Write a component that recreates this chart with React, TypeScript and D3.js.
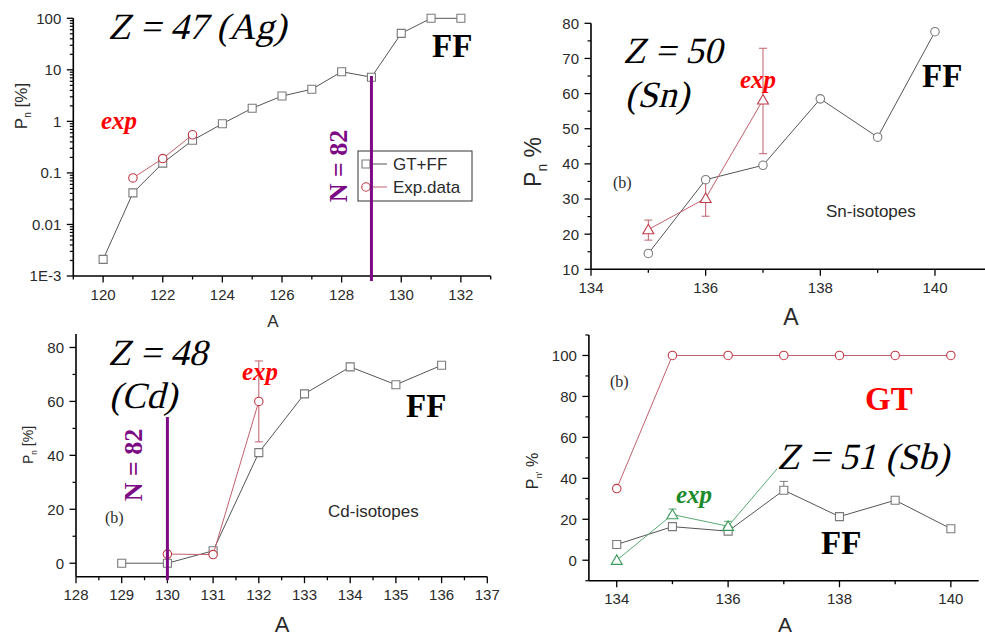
import React from "react";
import * as d3 from "d3";

// ---------- Panel 1: Z = 47 (Ag) ----------
const agA = [120, 121, 122, 123, 124, 125, 126, 127, 128, 129, 130, 131, 132];
const agGTFF = [0.0021, 0.041, 0.155, 0.43, 0.9, 1.8, 3.1, 4.2, 9.2, 7.2, 51, 100, 100];
const agExpA = [121, 122, 123];
const agExp = [0.08, 0.19, 0.55];
const agExpLo = [0.072, 0.17, 0.49];
const agExpHi = [0.088, 0.21, 0.61];
const agXTicks = [120, 122, 124, 126, 128, 130, 132];
const agYTicks = [0.001, 0.01, 0.1, 1, 10, 100];
const agYLabels = ["1E-3", "0.01", "0.1", "1", "10", "100"];

// ---------- Panel 2: Z = 50 (Sn) ----------
const snA = [135, 136, 137, 138, 139, 140];
const snFF = [14.5, 35.5, 39.6, 58.5, 47.6, 77.6];
const snExpA = [135, 136, 137];
const snExp = [21.3, 30.2, 58.2];
const snExpLo = [18.3, 25.1, 42.9];
const snExpHi = [24.0, 35.4, 72.9];
const snXTicks = [134, 136, 138, 140];
const snYTicks = [10, 20, 30, 40, 50, 60, 70, 80];

// ---------- Panel 3: Z = 48 (Cd) ----------
const cdA = [129, 130, 131, 132, 133, 134, 135, 136];
const cdFF = [0, 0, 4.6, 41, 62.8, 72.8, 66.2, 73.4];
const cdExpA = [130, 131, 132];
const cdExp = [3.4, 3.2, 60];
const cdExpLo = [3.4, 3.2, 45];
const cdExpHi = [3.4, 3.2, 75];
const cdXTicks = [128, 129, 130, 131, 132, 133, 134, 135, 136, 137];
const cdYTicks = [0, 20, 40, 60, 80];

// ---------- Panel 4: Z = 51 (Sb) ----------
const sbA = [134, 135, 136, 137, 138, 139, 140];
const sbGT = [35, 100, 100, 100, 100, 100, 100];
const sbFF = [7.7, 16.4, 14.2, 34.2, 21.3, 29.3, 15.4];
const sbFFHi = [7.7, 16.4, 14.2, 38.5, 21.3, 29.3, 15.4];
const sbExpA = [134, 135, 136, 137];
const sbExp = [0, 22.3, 16.6, 48.5];
const sbExpHi = [0, 25, 19, 48.5];
const sbXTicks = [134, 136, 138, 140];
const sbYTicks = [0, 20, 40, 60, 80, 100];

const SANS = "'Liberation Sans', Arial, sans-serif";
const SERIF = "'Liberation Serif', serif";
const TICK = "#2a2a2a";
const PURPLE = "#7d0a85";
const REDLINE = "#c0606c";
const REDMARK = "#c03a48";
const GRAYLINE = "#555";
const GRAYMARK = "#7a7a7a";
const GREENLINE = "#5aa874";
const GREENMARK = "#3c9a5a";

type Sc = (v: number) => number;

function XAxis({ x, y0, ticks, minor, labels, d0, d1 }: { x: Sc; y0: number; ticks: number[]; minor: number[]; labels?: string[]; d0: number; d1: number }) {
  return (
    <g>
      <line x1={x(d0)} x2={x(d1)} y1={y0} y2={y0} stroke="#000" strokeWidth={1.6} />
      {minor.map((t, i) => (
        <line key={"m" + i} x1={x(t)} x2={x(t)} y1={y0} y2={y0 + 3.5} stroke="#000" strokeWidth={1.3} />
      ))}
      {ticks.map((t, i) => (
        <g key={i}>
          <line x1={x(t)} x2={x(t)} y1={y0} y2={y0 + 6.5} stroke="#000" strokeWidth={1.3} />
          <text x={x(t)} y={y0 + 23.5} textAnchor="middle" fontFamily={SANS} fontSize={15} fill={TICK}>
            {labels ? labels[i] : String(t)}
          </text>
        </g>
      ))}
    </g>
  );
}

function YAxis({ y, x0, ticks, minor, labels, d0, d1 }: { y: Sc; x0: number; ticks: number[]; minor: number[]; labels?: string[]; d0: number; d1: number }) {
  return (
    <g>
      <line x1={x0} x2={x0} y1={y(d0)} y2={y(d1)} stroke="#000" strokeWidth={1.6} />
      {minor.map((t, i) => (
        <line key={"m" + i} x1={x0 - 3.5} x2={x0} y1={y(t)} y2={y(t)} stroke="#000" strokeWidth={1.2} />
      ))}
      {ticks.map((t, i) => (
        <g key={i}>
          <line x1={x0 - 6.5} x2={x0} y1={y(t)} y2={y(t)} stroke="#000" strokeWidth={1.3} />
          <text x={x0 - 12} y={y(t)} dy="0.36em" textAnchor="end" fontFamily={SANS} fontSize={15} fill={TICK}>
            {labels ? labels[i] : String(t)}
          </text>
        </g>
      ))}
    </g>
  );
}

function Series({ xs, ys, x, y, line, mark, shape }: { xs: number[]; ys: number[]; x: Sc; y: Sc; line: string; mark: string; shape: "square" | "circle" | "triangle" }) {
  const pts: [number, number][] = xs.map((a, i) => [x(a), y(ys[i])]);
  const path = d3.line()(pts) || "";
  const symType = shape === "square" ? d3.symbolSquare : shape === "circle" ? d3.symbolCircle : d3.symbolTriangle;
  const size = shape === "square" ? 64 : shape === "circle" ? 56 : 52;
  const sym = d3.symbol().type(symType).size(size)() || "";
  return (
    <g>
      <path d={path} fill="none" stroke={line} strokeWidth={1} />
      {pts.map((p, i) => (
        <path key={i} d={sym} transform={`translate(${p[0]},${p[1] + (shape === "triangle" ? 1 : 0)})`} fill="#fff" stroke={mark} strokeWidth={1.1} />
      ))}
    </g>
  );
}

function ErrBars({ xs, lo, hi, x, y, color }: { xs: number[]; lo: number[]; hi: number[]; x: Sc; y: Sc; color: string }) {
  return (
    <g>
      {xs.map((a, i) =>
        hi[i] - lo[i] > 0 ? (
          <g key={i} stroke={color} strokeWidth={1}>
            <line x1={x(a)} x2={x(a)} y1={y(lo[i])} y2={y(hi[i])} />
            <line x1={x(a) - 4} x2={x(a) + 4} y1={y(lo[i])} y2={y(lo[i])} />
            <line x1={x(a) - 4} x2={x(a) + 4} y1={y(hi[i])} y2={y(hi[i])} />
          </g>
        ) : null
      )}
    </g>
  );
}

function YLabel({ cx, cy, size, main, sub, rest }: { cx: number; cy: number; size: number; main: string; sub: string; rest: string }) {
  return (
    <text transform={`translate(${cx},${cy}) rotate(-90)`} textAnchor="middle" fontFamily={SANS} fontSize={size} fill={TICK}>
      {main}
      <tspan fontSize={size * 0.6} dy={size * 0.25}>{sub}</tspan>
      <tspan dy={-size * 0.25}>{rest}</tspan>
    </text>
  );
}

// Title in the Times-metric serif, slanted
function Title({ x, y, text, size = 37 }: { x: number; y: number; text: string; size?: number }) {
  return (
    <text
      transform={`translate(${x},${y}) skewX(-14)`}
      x={0}
      y={0}
      style={{ fontFamily: "Liberation Serif", fontStyle: "normal", fontWeight: 400, fontSize: size + "px" }}
      fill="#000"
    >
      {text}
    </text>
  );
}

const range = (a: number, b: number, s: number) => d3.range(a, b + s / 2, s);

export default function App() {
  // Panel 1
  const x1 = d3.scaleLinear().domain([119, 133]).range([73.3, 490.7]);
  const y1 = d3.scaleLog().domain([0.001, 100]).range([276, 18.3]);
  const logMinor: number[] = [];
  for (let e = -3; e < 2; e++) for (let k = 2; k <= 9; k++) logMinor.push(k * Math.pow(10, e));

  // Panel 2
  const x2 = d3.scaleLinear().domain([134, 141]).range([591, 992.3]);
  const y2 = d3.scaleLinear().domain([10, 80]).range([269.3, 23.3]);

  // Panel 3
  const x3 = d3.scaleLinear().domain([128, 137]).range([76, 487.3]);
  const y3 = d3.scaleLinear().domain([-5, 85]).range([576.7, 334]);

  // Panel 4
  const x4 = d3.scaleLinear().domain([133.5, 140.5]).range([588.9, 978.7]);
  const y4 = d3.scaleLinear().domain([-10, 110]).range([580.7, 335]);

  return (
    <svg width={985} height={636} style={{ position: "absolute", left: 0, top: 0, background: "#fff" }}>
      <rect width={985} height={636} fill="#fff" />

      {/* ===== Panel 1 ===== */}
      <XAxis x={x1} y0={276} ticks={agXTicks} minor={[119, 121, 123, 125, 127, 129, 131, 133]} d0={119} d1={133} />
      <YAxis y={y1} x0={73.3} ticks={agYTicks} labels={agYLabels} minor={logMinor} d0={0.001} d1={100} />
      <YLabel cx={27} cy={106} size={17} main="P" sub="n" rest=" [%]" />
      <text x={273} y={327} textAnchor="middle" fontFamily={SANS} fontSize={17} fill={TICK}>A</text>
      <ErrBars xs={agExpA} lo={agExpLo} hi={agExpHi} x={x1} y={y1} color={REDLINE} />
      <Series xs={agA} ys={agGTFF} x={x1} y={y1} line={GRAYLINE} mark={GRAYMARK} shape="square" />
      <Series xs={agExpA} ys={agExp} x={x1} y={y1} line={REDLINE} mark={REDMARK} shape="circle" />
      {/* legend */}
      <rect x={358} y={151} width={114} height={50} fill="#fff" stroke="#333" strokeWidth={1} />
      <line x1={370} x2={387} y1={164} y2={164} stroke={GRAYLINE} strokeWidth={1} />
      <path d={d3.symbol().type(d3.symbolSquare).size(64)() || ""} transform="translate(366,164)" fill="#fff" stroke={GRAYMARK} strokeWidth={1.1} />
      <text x={393} y={164} dy="0.36em" fontFamily={SANS} fontSize={17} fill={TICK}>GT+FF</text>
      <line x1={370} x2={387} y1={187} y2={187} stroke={REDLINE} strokeWidth={1} />
      <path d={d3.symbol().type(d3.symbolCircle).size(56)() || ""} transform="translate(366,187)" fill="#fff" stroke={REDMARK} strokeWidth={1.1} />
      <text x={393} y={187} dy="0.36em" fontFamily={SANS} fontSize={17} fill={TICK}>Exp.data</text>
      <line x1={x1(129)} x2={x1(129)} y1={76} y2={281} stroke={PURPLE} strokeWidth={3} />
      <text transform={`translate(347,166) rotate(-90)`} textAnchor="middle" fontFamily={SERIF} fontWeight="bold" fontSize={26} fill={PURPLE}>N = 82</text>
      <Title x={108} y={39} text="Z = 47 (Ag)" />
      <text x={432} y={57} fontFamily={SERIF} fontWeight="bold" fontSize={33} fill="#000">FF</text>
      <text x={101} y={129} fontFamily={SERIF} fontWeight="bold" fontStyle="italic" fontSize={25} fill="#ff0000">exp</text>

      {/* ===== Panel 2 ===== */}
      <XAxis x={x2} y0={269.3} ticks={snXTicks} minor={[135, 137, 139, 141]} d0={134} d1={141} />
      <YAxis y={y2} x0={591} ticks={snYTicks} minor={range(15, 75, 10)} d0={10} d1={80} />
      <YLabel cx={541} cy={162} size={23} main="P" sub="n" rest=" %" />
      <text x={791} y={325} textAnchor="middle" fontFamily={SANS} fontSize={23} fill={TICK}>A</text>
      <ErrBars xs={snExpA} lo={snExpLo} hi={snExpHi} x={x2} y={y2} color={REDLINE} />
      <Series xs={snA} ys={snFF} x={x2} y={y2} line={GRAYLINE} mark={GRAYMARK} shape="circle" />
      <Series xs={snExpA} ys={snExp} x={x2} y={y2} line={REDLINE} mark={REDMARK} shape="triangle" />
      <text x={613} y={188} fontFamily={SERIF} fontSize={16} fill={TICK}>(b)</text>
      <text x={826} y={217} fontFamily={SANS} fontSize={17} fill={TICK}>Sn-isotopes</text>
      <Title x={623} y={63} text="Z = 50" />
      <Title x={625} y={107} text="(Sn)" />
      <text x={922} y={87} fontFamily={SERIF} fontWeight="bold" fontSize={33} fill="#000">FF</text>
      <text x={740} y={88} fontFamily={SERIF} fontWeight="bold" fontStyle="italic" fontSize={25} fill="#ff0000">exp</text>

      {/* ===== Panel 3 ===== */}
      <XAxis x={x3} y0={576.7} ticks={cdXTicks} minor={range(128.5, 136.5, 1)} d0={128} d1={137} />
      <YAxis y={y3} x0={76} ticks={cdYTicks} minor={[10, 30, 50, 70]} d0={-5} d1={85} />
      <YLabel cx={33} cy={445} size={14} main="P" sub="n" rest=" [%]" />
      <text x={282} y={632} textAnchor="middle" fontFamily={SANS} fontSize={22} fill={TICK}>A</text>
      <ErrBars xs={cdExpA} lo={cdExpLo} hi={cdExpHi} x={x3} y={y3} color={REDLINE} />
      <Series xs={cdA} ys={cdFF} x={x3} y={y3} line={GRAYLINE} mark={GRAYMARK} shape="square" />
      <Series xs={cdExpA} ys={cdExp} x={x3} y={y3} line={REDLINE} mark={REDMARK} shape="circle" />
      <line x1={x3(130)} x2={x3(130)} y1={417} y2={580} stroke={PURPLE} strokeWidth={3} />
      <text transform={`translate(142,465) rotate(-90)`} textAnchor="middle" fontFamily={SERIF} fontWeight="bold" fontSize={26} fill={PURPLE}>N = 82</text>
      <text x={105} y={523} fontFamily={SERIF} fontSize={16} fill={TICK}>(b)</text>
      <text x={328} y={517} fontFamily={SANS} fontSize={17} fill={TICK}>Cd-isotopes</text>
      <Title x={108} y={365} text="Z = 48" />
      <Title x={109} y={408} text="(Cd)" />
      <text x={242} y={380} fontFamily={SERIF} fontWeight="bold" fontStyle="italic" fontSize={25} fill="#ff0000">exp</text>
      <text x={406} y={417} fontFamily={SERIF} fontWeight="bold" fontSize={33} fill="#000">FF</text>

      {/* ===== Panel 4 ===== */}
      <XAxis x={x4} y0={580.7} ticks={sbXTicks} minor={[135, 137, 139]} d0={133.5} d1={140.5} />
      <YAxis y={y4} x0={588.9} ticks={sbYTicks} minor={[-10, 10, 30, 50, 70, 90, 110]} d0={-10} d1={110} />
      <YLabel cx={538} cy={471} size={16} main="P" sub="n'" rest=" %" />
      <text x={785} y={632} textAnchor="middle" fontFamily={SANS} fontSize={21} fill={TICK}>A</text>
      <ErrBars xs={sbA} lo={sbFF} hi={sbFFHi} x={x4} y={y4} color={GRAYMARK} />
      <ErrBars xs={sbExpA} lo={sbExp} hi={sbExpHi} x={x4} y={y4} color={GREENLINE} />
      <Series xs={sbA} ys={sbGT} x={x4} y={y4} line={REDLINE} mark={REDMARK} shape="circle" />
      <Series xs={sbA} ys={sbFF} x={x4} y={y4} line={GRAYLINE} mark={GRAYMARK} shape="square" />
      <Series xs={sbExpA} ys={sbExp} x={x4} y={y4} line={GREENLINE} mark={GREENMARK} shape="triangle" />
      <rect x={777} y={432} width={180} height={38} fill="#fff" />
      <Title x={777} y={469} text="Z = 51 (Sb)" />
      <text x={610} y={387} fontFamily={SERIF} fontSize={16} fill={TICK}>(b)</text>
      <text x={865} y={410} fontFamily={SERIF} fontWeight="bold" fontSize={33} fill="#ff0000">GT</text>
      <text x={821} y={554} fontFamily={SERIF} fontWeight="bold" fontSize={33} fill="#000">FF</text>
      <text x={676} y={503} fontFamily={SERIF} fontWeight="bold" fontStyle="italic" fontSize={25} fill="#1a8a2a">exp</text>
    </svg>
  );
}
